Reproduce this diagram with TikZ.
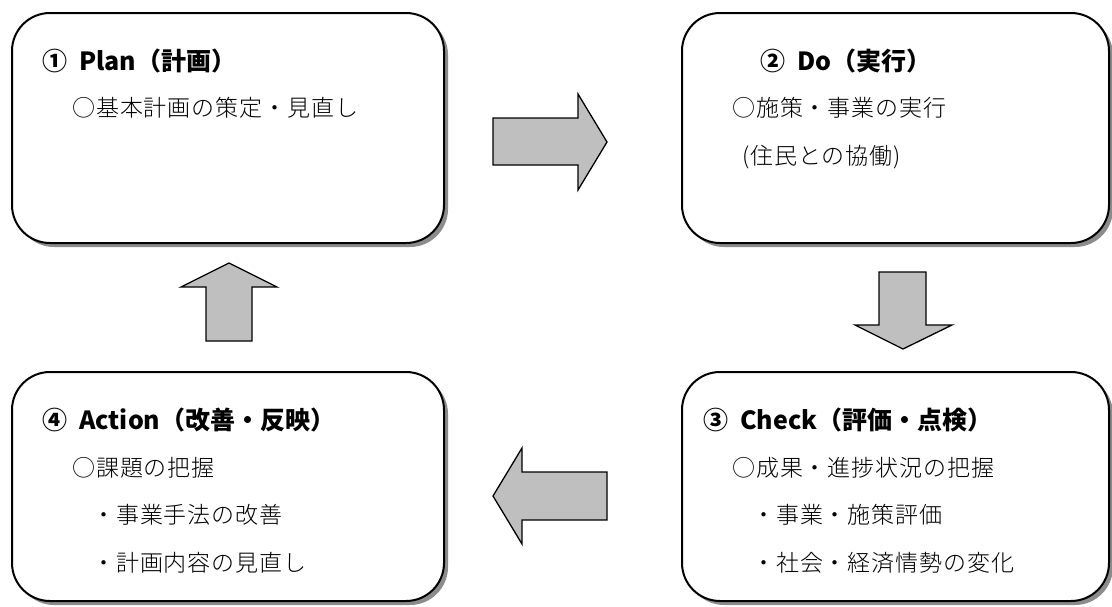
\documentclass[tikz,border=0pt]{standalone}
\usepackage{fontspec}
\setmainfont{Noto Sans CJK JP}
\newfontfamily\lightfont{Noto Sans CJK JP}[UprightFont=* Light, LetterSpace=4]
\usetikzlibrary{shadows}
\tikzset{
  box/.style={draw=black, line width=2pt, fill=white, rounded corners=38pt,
    drop shadow={shadow xshift=4pt, shadow yshift=-4pt, fill=black!45, opacity=1},
    inner sep=0pt},
  blockarrow/.style={draw=black, line width=1.3pt, fill=black!25, line join=miter},
  title/.style={anchor=west, inner sep=0pt, font=\fontsize{25}{30}\selectfont\bfseries},
  body/.style={anchor=west, inner sep=0pt, font=\fontsize{23}{27}\selectfont\lightfont}
}
\newcommand{\numgap}{\hspace{12pt}}
\begin{document}
\begin{tikzpicture}[x=1pt,y=-1pt]
\useasboundingbox (0,0) rectangle (1112,606);
% boxes
\node[box, minimum width=432pt, minimum height=230pt] (plan) at (228,128) {};
\node[box, minimum width=427pt, minimum height=230pt] (do) at (895.5,128) {};
\node[box, minimum width=427pt, minimum height=229pt] (check) at (895.5,486.5) {};
\node[box, minimum width=432pt, minimum height=229pt] (action) at (228,486.5) {};
% texts
\node[title] (t1) at (42,61) {①\numgap Plan（計画）};
\node[body] (b1) at (72,108) {○基本計画の策定・見直し};
\node[title] (t2) at (760,61) {②\numgap Do（実行）};
\node[body] (b2a) at (732,108) {○施策・事業の実行};
\node[body] (b2b) at (742,157) {(住民との協働)};
\node[title] (t3) at (703,420) {③\numgap Check（評価・点検）};
\node[body] (b3a) at (732,468) {○成果・進捗状況の把握};
\node[body] (b3b) at (752,515) {・事業・施策評価};
\node[body] (b3c) at (752,563) {・社会・経済情勢の変化};
\node[title] (t4) at (42,420) {④\numgap Action（改善・反映）};
\node[body] (b4a) at (72,468) {○課題の把握};
\node[body] (b4b) at (92,515) {・事業手法の改善};
\node[body] (b4c) at (92,563) {・計画内容の見直し};
% block arrows
\draw[blockarrow] (493,118) -- (578,118) -- (578,94) -- (607,142) -- (578,190) -- (578,165) -- (493,165) -- cycle;
\draw[blockarrow] (879,272) -- (926,272) -- (926,325) -- (952,325) -- (903,349) -- (855,325) -- (879,325) -- cycle;
\draw[blockarrow] (607,472) -- (522,472) -- (522,448) -- (493,496) -- (522,544) -- (522,520) -- (607,520) -- cycle;
\draw[blockarrow] (206,341) -- (206,287) -- (181,287) -- (229,263) -- (277,287) -- (252,287) -- (252,341) -- cycle;
\end{tikzpicture}
\end{document}
